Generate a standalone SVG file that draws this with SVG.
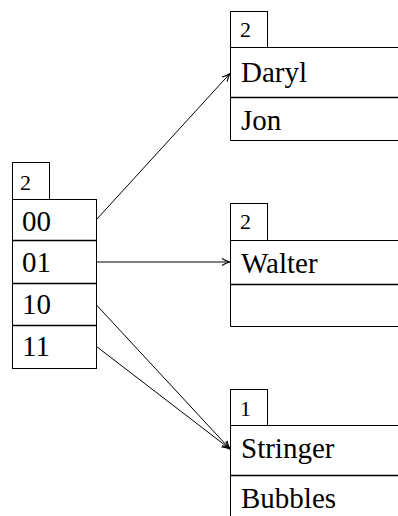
<svg xmlns="http://www.w3.org/2000/svg" width="398" height="516" viewBox="0 0 398 516">
<style>
.b{fill:#fff;stroke:#000;stroke-width:1}
.s{stroke:#000;stroke-width:1.6}
.c{fill:none;stroke:#000;stroke-width:1}
</style>
<defs>
<marker id="ah" viewBox="0 0 10 10" refX="9" refY="5" markerWidth="10" markerHeight="10" markerUnits="userSpaceOnUse" orient="auto">
<path d="M1,1.5 Q5,4.2 9,5 Q5,5.8 1,8.5" fill="none" stroke="#000" stroke-width="1.1"/>
</marker>
</defs>
<g font-family="Liberation Serif, Times New Roman, DejaVu Serif, serif" fill="#000">
<g id="directory">
<rect class="b" x="12.5" y="162.5" width="37" height="37"/>
<text font-size="22" x="20" y="190">2</text>
<rect class="b" x="12.5" y="199.5" width="84" height="169"/>
<line class="s" x1="12" y1="240.5" x2="97" y2="240.5"/>
<line class="s" x1="12" y1="283.5" x2="97" y2="283.5"/>
<line class="s" x1="12" y1="325.5" x2="97" y2="325.5"/>
<text font-size="29" x="22" y="231">00</text>
<text font-size="29" x="22" y="272">01</text>
<text font-size="29" x="22" y="314">10</text>
<text font-size="29" x="22" y="356">11</text>
</g>
<g id="bucket1">
<rect class="b" x="230.5" y="11.5" width="37" height="36"/>
<text font-size="22" x="240" y="37">2</text>
<path class="c" d="M410,47.5 H230.5 V140.5 H410"/>
<line class="s" x1="230" y1="97.5" x2="410" y2="97.5"/>
<text font-size="29" x="241" y="82">Daryl</text>
<text font-size="29" x="241" y="130">Jon</text>
</g>
<g id="bucket2">
<rect class="b" x="230.5" y="203.5" width="37" height="37"/>
<text font-size="22" x="240" y="229">2</text>
<path class="c" d="M410,240.5 H230.5 V326.5 H410"/>
<line class="s" x1="230" y1="284.5" x2="410" y2="284.5"/>
<text font-size="29" x="241" y="273">Walter</text>
</g>
<g id="bucket3">
<rect class="b" x="230.5" y="389.5" width="37" height="36"/>
<text font-size="22" x="240" y="416">1</text>
<path class="c" d="M410,425.5 H230.5 V520"/>
<line class="s" x1="230" y1="475.5" x2="410" y2="475.5"/>
<text font-size="29" x="241" y="458">Stringer</text>
<text font-size="29" x="241" y="508">Bubbles</text>
</g>
</g>
<g id="connectors">
<line class="c" x1="96.5" y1="219.5" x2="230" y2="73.5" marker-end="url(#ah)"/>
<line class="c" x1="96.5" y1="262" x2="230" y2="262" marker-end="url(#ah)"/>
<line class="c" x1="96.5" y1="305" x2="230" y2="449" marker-end="url(#ah)"/>
<line class="c" x1="96.5" y1="346.5" x2="230" y2="449" marker-end="url(#ah)"/>
</g>
</svg>
